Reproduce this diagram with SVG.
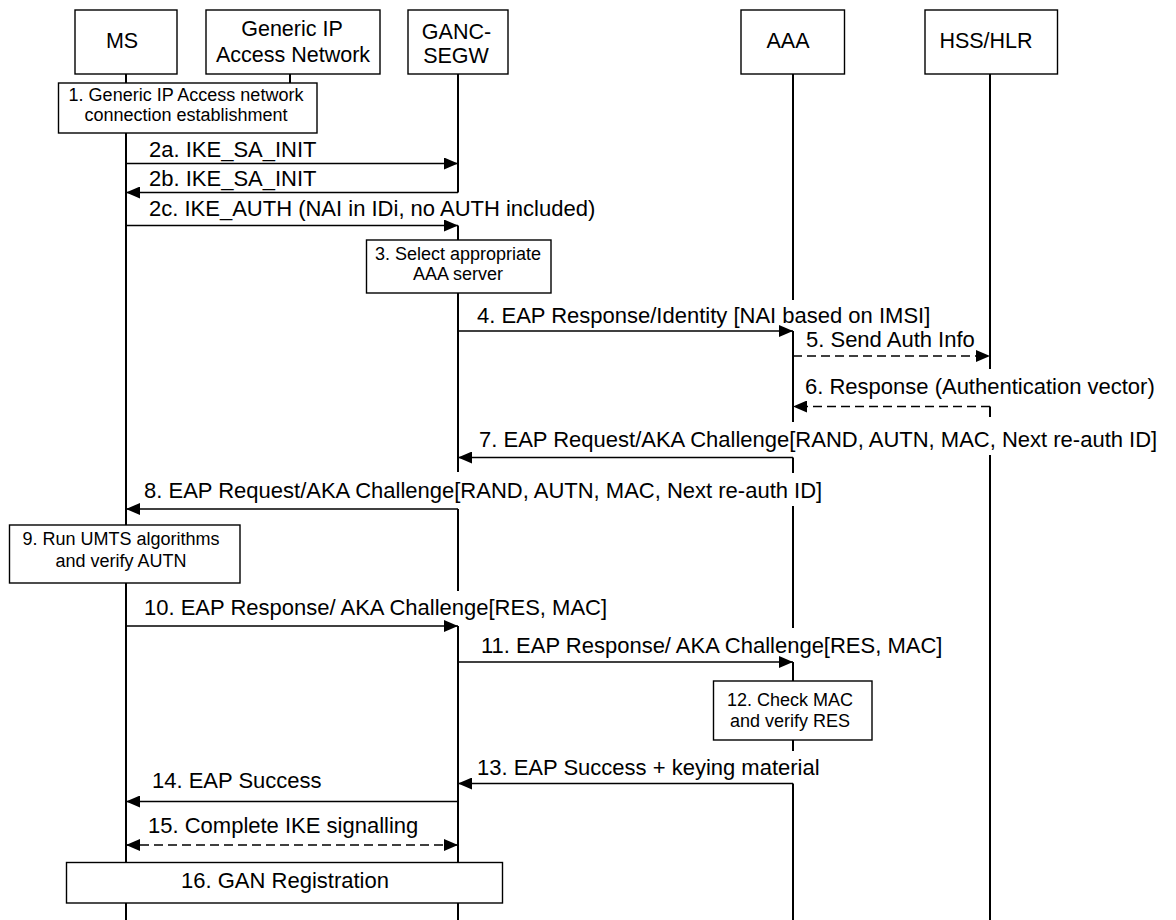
<svg xmlns="http://www.w3.org/2000/svg" width="1176" height="920" viewBox="0 0 1176 920">
<style>
.hdr{fill:#fff;stroke:#000;stroke-width:1.4}
.ht{font-family:"Liberation Sans",Arial,sans-serif;font-size:21.5px;fill:#000;text-anchor:middle}
.life{stroke:#000;stroke-width:2;fill:none}
.msg{stroke:#000;stroke-width:1.6;fill:none;marker-end:url(#ah)}
.dash{stroke-dasharray:9 5}
.ml{font-family:"Liberation Sans",Arial,sans-serif;font-size:22px;fill:#000}
.box{fill:#fff;stroke:#000;stroke-width:1.4}
.bt{font-family:"Liberation Sans",Arial,sans-serif;font-size:18px;fill:#000;text-anchor:middle}
.bt16{font-family:"Liberation Sans",Arial,sans-serif;font-size:22px;fill:#000;text-anchor:middle}
</style>
<defs>
<marker id="ah" markerUnits="userSpaceOnUse" viewBox="0 0 14 12" markerWidth="14" markerHeight="12" refX="14" refY="6" orient="auto-start-reverse">
<path d="M0,0 L14,6 L0,12 Z" fill="#000"/>
</marker>
</defs>
<rect width="1176" height="920" fill="#fff"/>

<g id="MS">
<path class="life" d="M126,74 V920"/>
<rect class="hdr" x="75" y="10" width="102" height="64"/>
<text class="ht" x="122" y="48">MS</text>
</g>
<g id="GenericIP">
<path class="life" d="M290,74 V83"/>
<rect class="hdr" x="206" y="10" width="174" height="64"/>
<text class="ht" x="292" y="36">Generic IP</text>
<text class="ht" x="293" y="62">Access Network</text>
</g>
<g id="GANC-SEGW">
<path class="life" d="M458,74 V192.5 M458,225.5 V472 M458,509 V591 M458,626 V920"/>
<rect class="hdr" x="408" y="10" width="100" height="64"/>
<text class="ht" x="456.5" y="39">GANC-</text>
<text class="ht" x="456" y="63">SEGW</text>
</g>
<g id="AAA">
<path class="life" d="M793,74 V300 M793,331 V422 M793,457.5 V473 M793,506 V628 M793,662 V751 M793,783.5 V920"/>
<rect class="hdr" x="741" y="10" width="103.5" height="64"/>
<text class="ht" x="788" y="48">AAA</text>
</g>
<g id="HSS-HLR">
<path class="life" d="M990,74 V369 M990,406.5 V417 M990,455 V920"/>
<rect class="hdr" x="925" y="10" width="132.5" height="64"/>
<text class="ht" x="986" y="48">HSS/HLR</text>
</g>

<g id="connectors">
<line class="msg" x1="126" y1="163.5" x2="458" y2="163.5"/>
<text class="ml" x="149" y="157">2a. IKE_SA_INIT</text>
<line class="msg" x1="458" y1="192.5" x2="126" y2="192.5"/>
<text class="ml" x="149" y="186">2b. IKE_SA_INIT</text>
<line class="msg" x1="126" y1="225.5" x2="458" y2="225.5"/>
<text class="ml" x="149" y="216">2c. IKE_AUTH (NAI in IDi, no AUTH included)</text>
<line class="msg" x1="458" y1="331" x2="793" y2="331"/>
<text class="ml" x="477" y="323">4. EAP Response/Identity [NAI based on IMSI]</text>
<line class="msg dash" x1="793" y1="356" x2="990" y2="356"/>
<text class="ml" x="806" y="347">5. Send Auth Info</text>
<line class="msg dash" x1="990" y1="406.5" x2="793" y2="406.5"/>
<text class="ml" x="805" y="394">6. Response (Authentication vector)</text>
<line class="msg" x1="793" y1="457.5" x2="458" y2="457.5"/>
<text class="ml" x="479" y="447">7. EAP Request/AKA Challenge[RAND, AUTN, MAC, Next re-auth ID]</text>
<line class="msg" x1="458" y1="509" x2="126" y2="509"/>
<text class="ml" x="144" y="498">8. EAP Request/AKA Challenge[RAND, AUTN, MAC, Next re-auth ID]</text>
<line class="msg" x1="126" y1="626" x2="458" y2="626"/>
<text class="ml" x="144" y="615">10. EAP Response/ AKA Challenge[RES, MAC]</text>
<line class="msg" x1="458" y1="662" x2="793" y2="662"/>
<text class="ml" x="481" y="653">11. EAP Response/ AKA Challenge[RES, MAC]</text>
<line class="msg" x1="793" y1="783.5" x2="458" y2="783.5"/>
<text class="ml" x="477" y="775">13. EAP Success + keying material</text>
<line class="msg" x1="458" y1="801.5" x2="126" y2="801.5"/>
<text class="ml" x="152" y="788">14. EAP Success</text>
<line class="msg dash" x1="126" y1="845" x2="458" y2="845" marker-start="url(#ah)"/>
<text class="ml" x="148" y="833">15. Complete IKE signalling</text>
</g>

<g id="step1">
<rect class="box" x="58.5" y="83" width="258.5" height="50"/>
<text class="bt" x="186" y="101">1. Generic IP Access network</text>
<text class="bt" x="186" y="121">connection establishment</text>
</g>
<g id="step3">
<rect class="box" x="366.5" y="240" width="184.5" height="53"/>
<text class="bt" x="458" y="260">3. Select appropriate</text>
<text class="bt" x="458" y="280">AAA server</text>
</g>
<g id="step9">
<rect class="box" x="9.5" y="525" width="230.5" height="58"/>
<text class="bt" x="121" y="545">9. Run UMTS algorithms</text>
<text class="bt" x="121" y="567">and verify AUTN</text>
</g>
<g id="step12">
<rect class="box" x="713.5" y="681" width="158.5" height="59"/>
<text class="bt" x="790" y="706">12. Check MAC</text>
<text class="bt" x="790" y="727">and verify RES</text>
</g>
<g id="step16">
<rect class="box" x="66.5" y="862.5" width="436" height="40.5"/>
<text class="bt16" x="285" y="888">16. GAN Registration</text>
</g>
</svg>
